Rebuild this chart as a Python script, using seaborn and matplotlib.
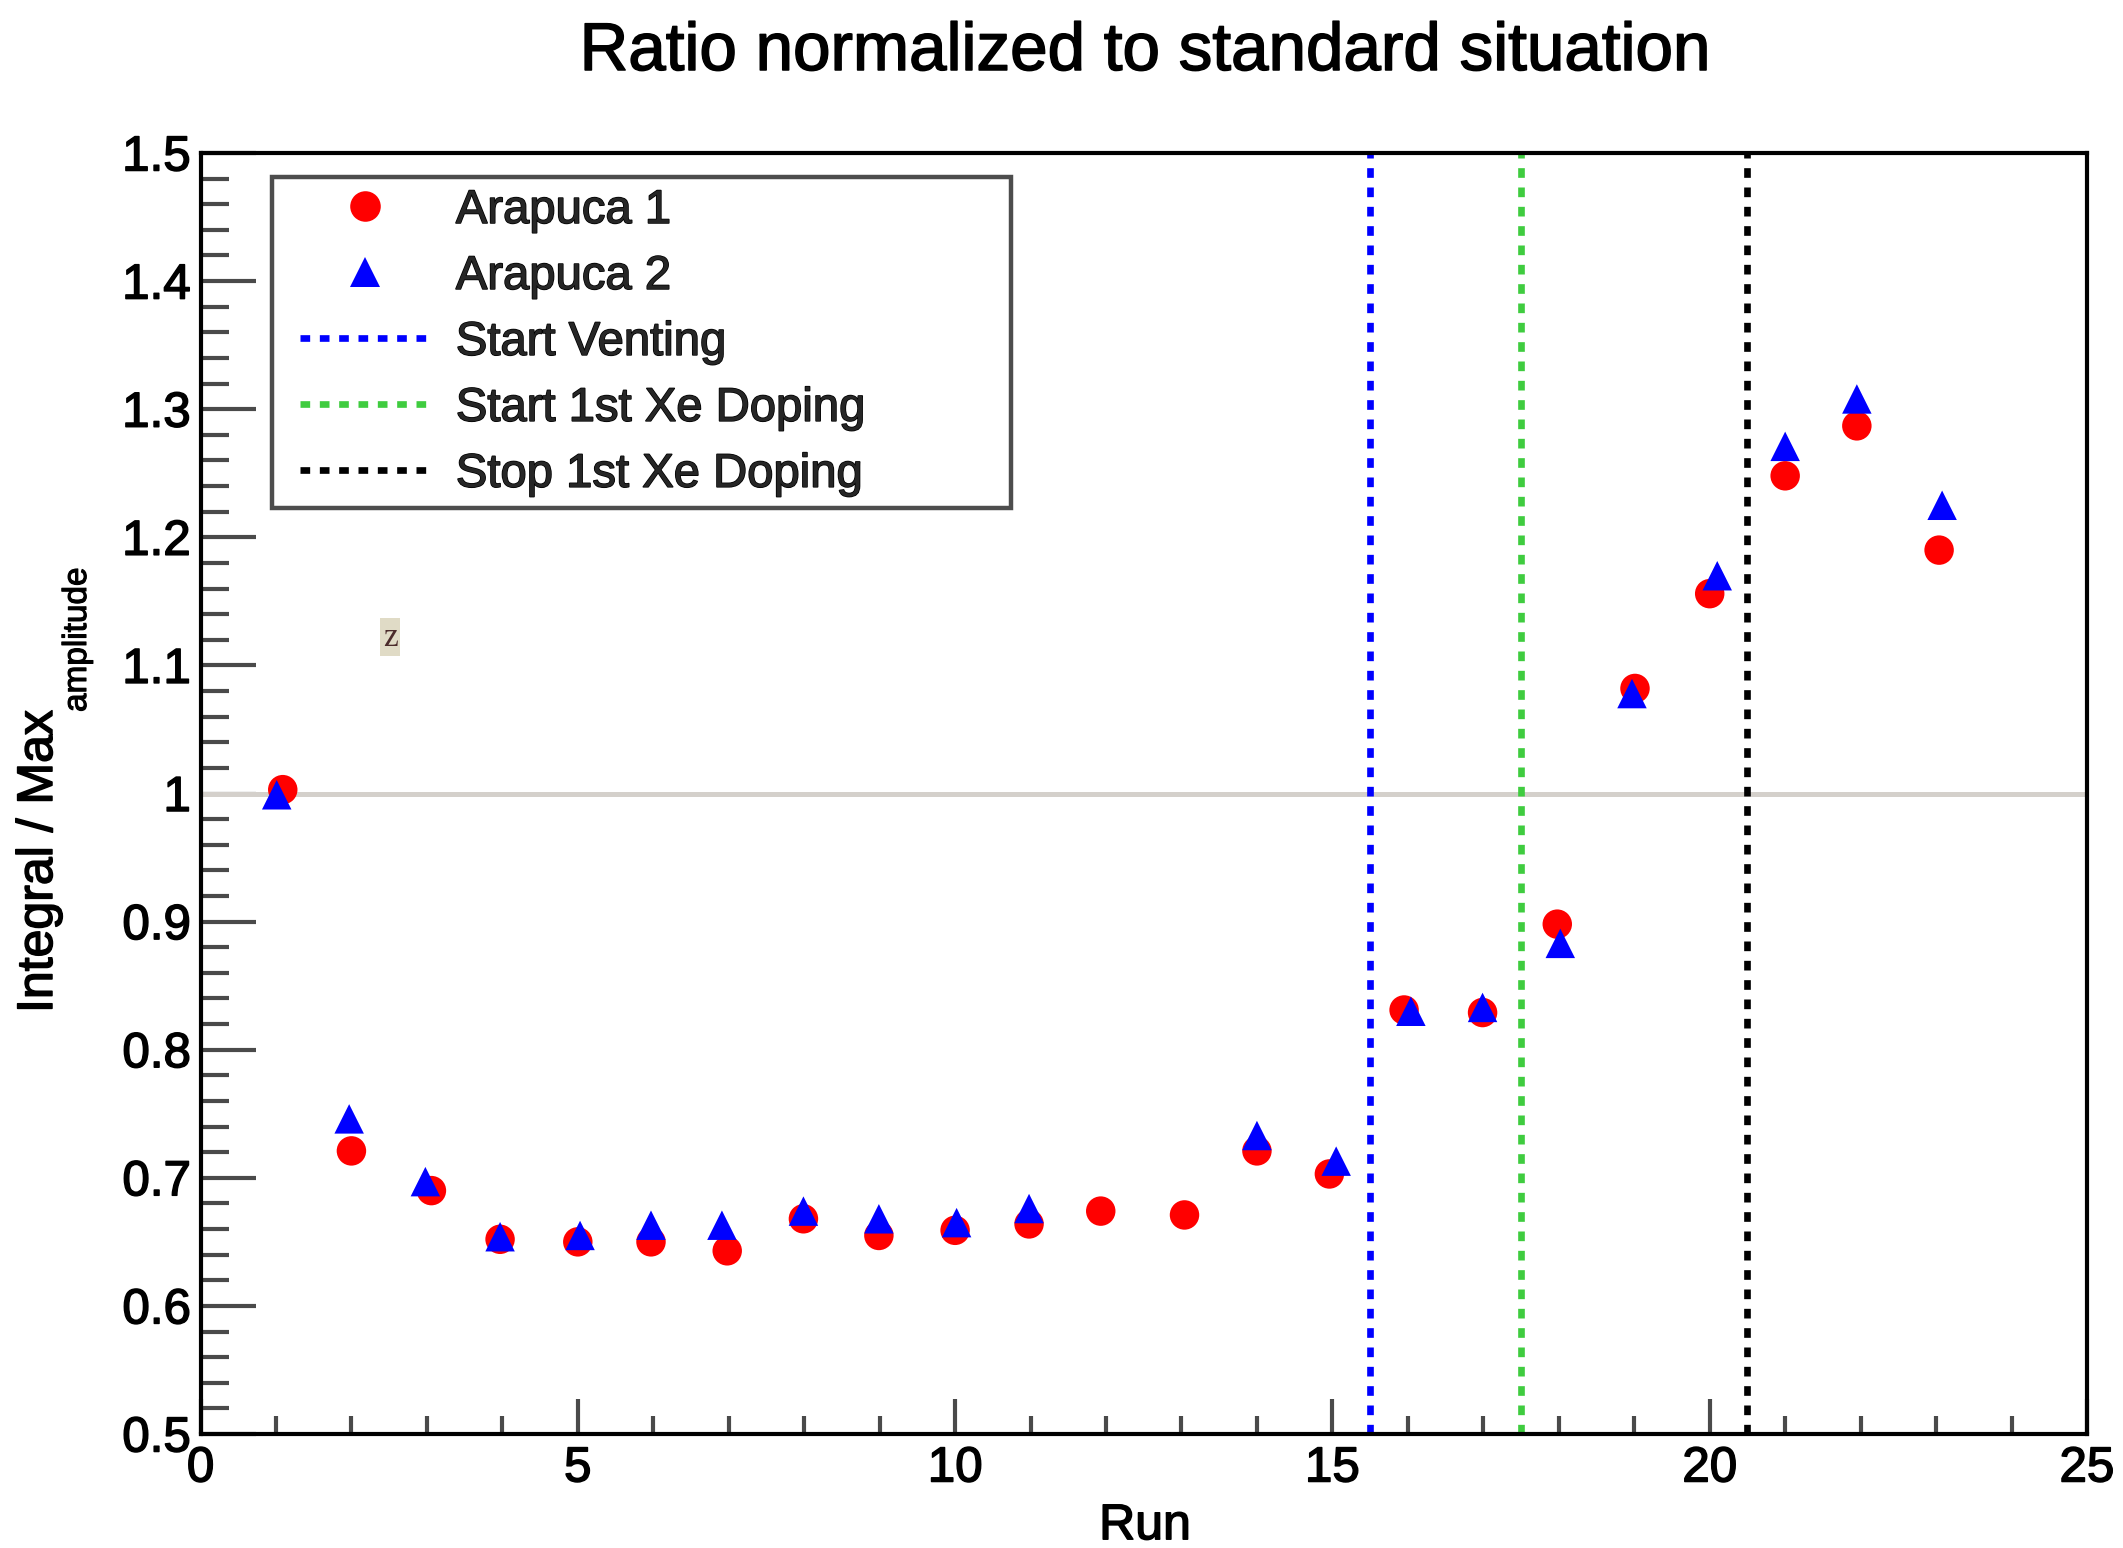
import matplotlib
matplotlib.use("Agg")
import matplotlib.pyplot as plt
import matplotlib.patheffects as pe
from matplotlib.lines import Line2D
from matplotlib.patches import Rectangle
from matplotlib.ticker import MultipleLocator, FixedLocator, FixedFormatter
import pandas as pd
import seaborn as sns

# ---- data -------------------------------------------------------------
run_a1 = [1.09, 2.00, 3.06, 3.97, 5.00, 5.97, 6.98, 7.99, 8.99, 10.00, 10.98,
          11.93, 13.04, 14.00, 14.96, 15.95, 16.99, 17.98, 19.01, 20.00, 21.00,
          21.95, 23.04]
ratio_a1 = [1.003, 0.721, 0.690, 0.652, 0.650, 0.650, 0.643, 0.668, 0.655,
            0.659, 0.664, 0.674, 0.671, 0.721, 0.703, 0.831, 0.829, 0.898,
            1.082, 1.156, 1.248, 1.287, 1.190]

run_a2 = [1.01, 1.97, 2.98, 3.97, 5.03, 5.97, 6.91, 7.99, 8.99, 10.02, 10.98,
          14.00, 15.05, 16.04, 16.99, 18.02, 18.97, 20.10, 21.00, 21.95, 23.08]
ratio_a2 = [0.999, 0.746, 0.697, 0.654, 0.655, 0.663, 0.663, 0.674, 0.668,
            0.665, 0.676, 0.733, 0.713, 0.830, 0.833, 0.883, 1.078, 1.170,
            1.271, 1.308, 1.225]

series_names = ["Arapuca 1", "Arapuca 2"]
series_colors = ["#ff0000", "#0000ff"]
series_markers = ["o", "^"]

event_runs = [15.5, 17.5, 20.5]
event_names = ["Start Venting", "Start 1st Xe Doping", "Stop 1st Xe Doping"]
event_colors = ["#0000ff", "#3fcc3f", "#000000"]

reference_level = 1.0

x_major = [0, 5, 10, 15, 20, 25]
y_major = [0.5, 0.6, 0.7, 0.8, 0.9, 1.0, 1.1, 1.2, 1.3, 1.4, 1.5]
y_major_labels = ["0.5", "0.6", "0.7", "0.8", "0.9", "1", "1.1", "1.2", "1.3", "1.4", "1.5"]

title_text = "Ratio normalized to standard situation"
x_title = "Run"
y_title_main = "Integral / Max"
y_title_sub = "amplitude"

# ---- style ------------------------------------------------------------
sns.set_theme(style="white")
plt.rcParams["font.family"] = ["Liberation Sans", "DejaVu Sans"]

# slightly heavier glyph rendering
heavy = [pe.withStroke(linewidth=1.1, foreground="black")]

W, H = 2123, 1548
fig = plt.figure(figsize=(W / 100, H / 100), dpi=100)
fig.patch.set_facecolor("white")

ax_l, ax_r, ax_t, ax_b = 200.5, 2087, 153, 1434
axw, axh = ax_r - ax_l, ax_b - ax_t
ax = fig.add_axes([ax_l / W, 1 - ax_b / H, axw / W, axh / H])
ax.set_facecolor("white")

# ---- markers and reference lines --------------------------------------
df = pd.DataFrame({
    "run": run_a1 + run_a2,
    "ratio": ratio_a1 + ratio_a2,
    "detector": [series_names[0]] * len(run_a1) + [series_names[1]] * len(run_a2),
})

ax.axhline(reference_level, color="#d4d0cb", lw=3.6, zorder=1)

for xv, col in zip(event_runs, event_colors):
    ax.axvline(xv, color=col, lw=4.8, linestyle=(0, (1.45, 1.45)), zorder=2)

sns.scatterplot(
    data=df, x="run", y="ratio", hue="detector", style="detector",
    palette=dict(zip(series_names, series_colors)),
    markers=dict(zip(series_names, series_markers)),
    s=450, linewidth=0, edgecolor="none", legend=False, ax=ax, zorder=3,
)

# ---- axes -------------------------------------------------------------
ax.set_xlim(0, 25)
ax.set_ylim(0.5, 1.5)
ax.xaxis.set_major_locator(FixedLocator(x_major))
ax.xaxis.set_minor_locator(MultipleLocator(1))
ax.yaxis.set_major_locator(FixedLocator(y_major))
ax.yaxis.set_major_formatter(FixedFormatter(y_major_labels))
ax.yaxis.set_minor_locator(MultipleLocator(0.02))

for sp in ax.spines.values():
    sp.set_color("black")
    sp.set_linewidth(3.0)

ax.tick_params(axis="both", which="both", direction="in", colors="#4a4a4a",
               labelcolor="black", top=False, right=False,
               bottom=True, left=True)
ax.tick_params(axis="y", which="major", length=39.5, width=3.0, labelsize=35.5, pad=7)
ax.tick_params(axis="y", which="minor", length=20, width=3.0)
ax.tick_params(axis="x", which="major", length=25, width=3.0, labelsize=35.5, pad=9)
ax.tick_params(axis="x", which="minor", length=13, width=3.0)
for lab in ax.get_xticklabels() + ax.get_yticklabels():
    lab.set_path_effects(heavy)

ax.set_xlabel(x_title, fontsize=36, color="black", path_effects=heavy)
ax.xaxis.set_label_coords((1145 - ax_l) / axw, -0.054)

ax.set_ylabel(y_title_main, fontsize=36, color="black", path_effects=heavy)
ax.yaxis.label.set_horizontalalignment("left")
ax.yaxis.label.set_verticalalignment("baseline")
ax.yaxis.label.set_rotation_mode("anchor")
ax.yaxis.set_label_coords((52 - ax_l) / axw, (ax_b - 1013) / axh)
fig.text(86 / W, 1 - 712 / H, y_title_sub, fontsize=24, rotation=90,
         rotation_mode="anchor", ha="left", va="baseline", color="black",
         path_effects=[pe.withStroke(linewidth=0.8, foreground="black")])

fig.text(1145 / W, 1 - 70 / H, title_text, fontsize=48.5, ha="center",
         va="baseline", color="black", path_effects=heavy)

# ---- legend -----------------------------------------------------------
handles = [
    Line2D([], [], marker=m, color=c, linestyle="none", markersize=22,
           markeredgewidth=0)
    for m, c in zip(series_markers, series_colors)
] + [
    Line2D([], [], color=c, lw=4.8, linestyle=(0, (1.45, 1.45)))
    for c in event_colors
]
labels = series_names + event_names
fig.patches.append(Rectangle((272 / W, 1 - 508 / H), (1011 - 272) / W,
                             (508 - 177) / H, transform=fig.transFigure,
                             facecolor="white", edgecolor="#4d4d4d",
                             lw=3.2, zorder=5))
leg = fig.legend(handles, labels, loc="upper left",
                 bbox_to_anchor=(300 / W, 1 - 189 / H), frameon=False,
                 fontsize=34, borderpad=0, borderaxespad=0,
                 handlelength=2.75, handletextpad=0.55, labelspacing=0.465)
leg.set_zorder(6)
for t in leg.get_texts():
    t.set_path_effects(heavy)

# ---- small note tag ---------------------------------------------------
fig.patches.append(Rectangle((380 / W, 1 - 656 / H), 20 / W, 38 / H,
                             transform=fig.transFigure, facecolor="#e0dbc6",
                             edgecolor="none", zorder=7))
fig.text(390 / W, 1 - 638 / H, "z", fontsize=24, family="Liberation Serif",
         color="#4b2b2b", ha="center", va="center", zorder=8)

fig.savefig("out.png", dpi=100)
